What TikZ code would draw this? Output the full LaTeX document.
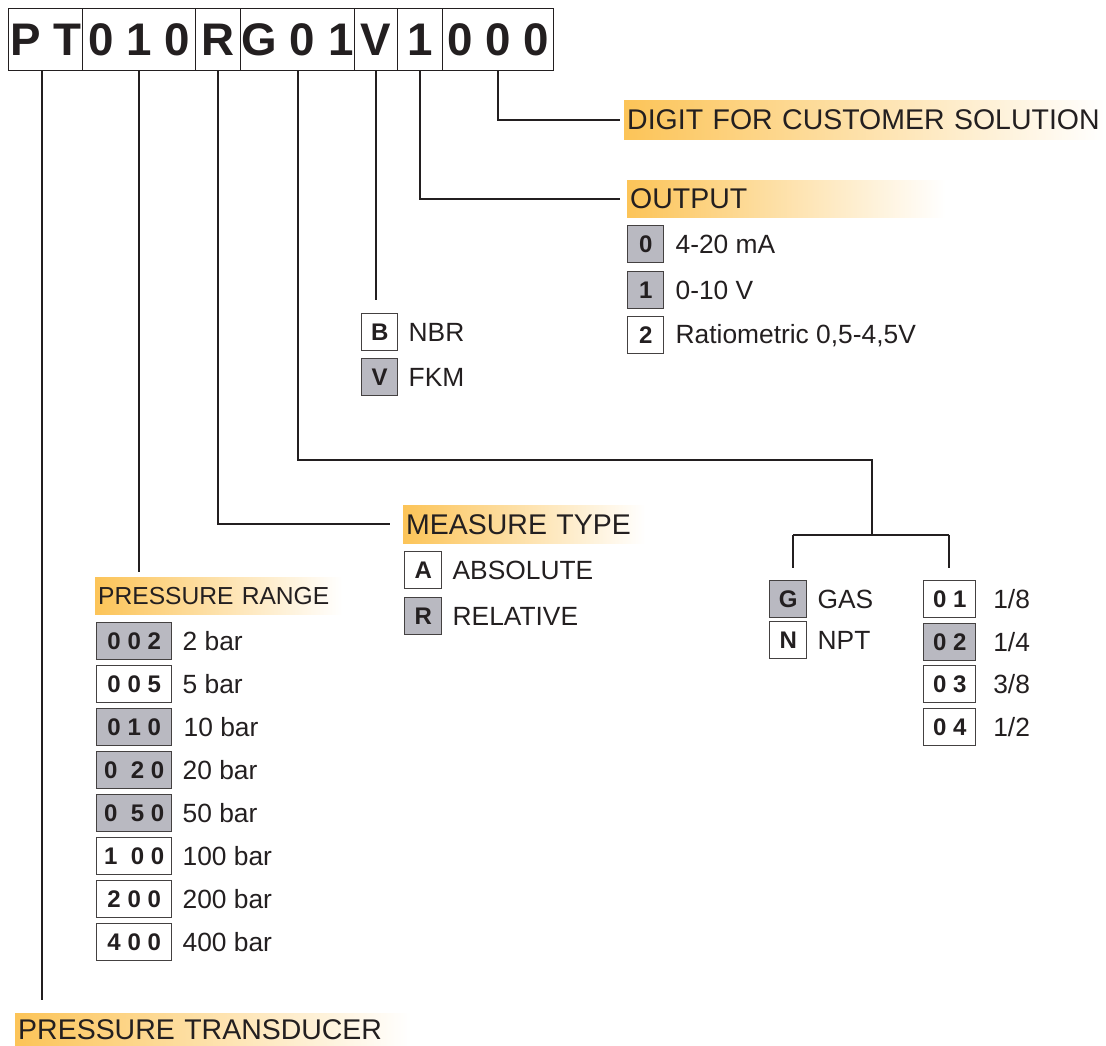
\documentclass[tikz,border=0pt]{standalone}
\usepackage{fontspec}
\setmainfont{Liberation Sans}
\usetikzlibrary{positioning,calc}
\definecolor{hdr}{RGB}{252,196,88}
\definecolor{optgrey}{RGB}{185,185,193}
\definecolor{ink}{RGB}{35,31,32}
\tikzstyle{digits} = [rectangle, draw=ink, line width=1pt, minimum height=1.86cm, anchor=north west, inner sep=0pt, font=\fontsize{39}{44}\selectfont\bfseries]
\tikzstyle{optbox} = [rectangle, draw=ink!85, line width=1.2pt, minimum height=1.11cm, anchor=north west, inner sep=0pt, font=\fontsize{20.5}{22}\selectfont\bfseries]
\tikzstyle{optfill} = [optbox, fill=optgrey]
\tikzstyle{optlabel} = [inner sep=0pt, font=\fontsize{22.5}{24}\selectfont]
\tikzstyle{header} = [rectangle, left color=hdr, right color=white, anchor=north west, inner xsep=0.09cm, inner ysep=0pt, align=left, font=\fontsize{24.3}{26}\selectfont]
\tikzstyle{link} = [line width=1.6pt, draw=ink]

\begin{document}
\begin{tikzpicture}[x=0.03cm, y=-0.03cm, text=ink]

\useasboundingbox (0,0) rectangle (1106,1046);

% code boxes
\node (pt) [digits, minimum width=2.22cm] at (8,8) {P T};
\node (range) [digits, minimum width=3.39cm] at (82,8) {0 1 0};
\node (mtype) [digits, minimum width=1.35cm] at (195,8) {R};
\node (conn) [digits, minimum width=3.42cm] at (240,8) {G 0 1};
\node (seal) [digits, minimum width=1.29cm] at (354,8) {V};
\node (outsig) [digits, minimum width=1.35cm] at (397,8) {1};
\node (custom) [digits, minimum width=3.33cm] at (442,8) {0 0 0};

% headers
\node (custh) [header, text width=14.28cm, minimum height=1.17cm] at (624,100) {DIGIT FOR CUSTOMER SOLUTION};
\node (outh) [header, text width=9.36cm, minimum height=1.11cm] at (627,180) {OUTPUT};
\node (typeh) [header, text width=7.08cm, minimum height=1.14cm] at (403,505) {MEASURE TYPE};
\node (rangeh) [header, text width=7.23cm, minimum height=1.11cm, font=\fontsize{21}{24}\selectfont] at (95,577) {PRESSURE RANGE};
\node (transh) [header, text width=11.67cm, minimum height=0.99cm] at (15,1013) {PRESSURE TRANSDUCER};

% output
\node (o0) [optfill, minimum width=1.08cm] at (627,225) {0};
\node (o0t) [optlabel, right=0.33cm of o0] {4-20 mA};
\node (o1) [optfill, minimum width=1.08cm] at (627,271) {1};
\node (o1t) [optlabel, right=0.33cm of o1] {0-10 V};
\node (o2) [optbox, minimum width=1.08cm] at (627,316) {2};
\node (o2t) [optlabel, right=0.33cm of o2] {Ratiometric 0,5-4,5V};

% seal
\node (nbr) [optbox, minimum width=1.08cm] at (361,313) {B};
\node (nbrt) [optlabel, right=0.3cm of nbr] {NBR};
\node (fkm) [optfill, minimum width=1.08cm] at (361,358) {V};
\node (fkmt) [optlabel, right=0.3cm of fkm] {FKM};

% measure type
\node (abs) [optbox, minimum width=1.11cm] at (404,551) {A};
\node (abst) [optlabel, right=0.3cm of abs] {ABSOLUTE};
\node (rel) [optfill, minimum width=1.11cm] at (404,597) {R};
\node (relt) [optlabel, right=0.3cm of rel] {RELATIVE};

% pressure range
\node (b002) [optfill, minimum width=2.25cm] at (96,622) {0 0 2};
\node (b002t) [optlabel, right=0.3cm of b002] {2 bar};
\node (b005) [optbox, minimum width=2.25cm] at (96,665) {0 0 5};
\node (b005t) [optlabel, right=0.3cm of b005] {5 bar};
\node (b010) [optfill, minimum width=2.25cm] at (96,708) {0 1 0};
\node (b010t) [optlabel, right=0.33cm of b010] {10 bar};
\node (b020) [optfill, minimum width=2.25cm] at (96,751) {0~ 2 0};
\node (b020t) [optlabel, right=0.3cm of b020] {20 bar};
\node (b050) [optfill, minimum width=2.25cm] at (96,794) {0~ 5 0};
\node (b050t) [optlabel, right=0.3cm of b050] {50 bar};
\node (b100) [optbox, minimum width=2.25cm] at (96,837) {1~ 0 0};
\node (b100t) [optlabel, right=0.3cm of b100] {100 bar};
\node (b200) [optbox, minimum width=2.25cm] at (96,880) {2 0 0};
\node (b200t) [optlabel, right=0.3cm of b200] {200 bar};
\node (b400) [optbox, minimum width=2.25cm] at (96,923) {4 0 0};
\node (b400t) [optlabel, right=0.3cm of b400] {400 bar};

% connection
\node (gas) [optfill, minimum width=1.11cm] at (769,580) {G};
\node (gast) [optlabel, right=0.3cm of gas] {GAS};
\node (npt) [optbox, minimum width=1.11cm] at (769,621) {N};
\node (nptt) [optlabel, right=0.3cm of npt] {NPT};
\node (t01) [optbox, minimum width=1.56cm] at (923,580) {0 1};
\node (t01t) [optlabel, right=0.5cm of t01] {1/8};
\node (t02) [optfill, minimum width=1.56cm] at (923,623) {0 2};
\node (t02t) [optlabel, right=0.5cm of t02] {1/4};
\node (t03) [optbox, minimum width=1.56cm] at (923,665) {0 3};
\node (t03t) [optlabel, right=0.5cm of t03] {3/8};
\node (t04) [optbox, minimum width=1.56cm] at (923,708) {0 4};
\node (t04t) [optlabel, right=0.5cm of t04] {1/2};

\coordinate (bend) at (872,460);
\coordinate (fork) at (872,535);
\coordinate (forkl) at (793,535);
\coordinate (forkr) at (949,535);

\draw [link, shorten >=0.12cm] (custom.south) |- (custh.west);
\draw [link, shorten >=0.21cm] (outsig.south) |- (outh.west);
\draw [link, shorten >=0.39cm] (seal.south) -- (seal.south |- nbr.north);
\draw [link] (conn.south) |- (bend) -- (fork);
\draw [link] (forkl) -- (forkr);
\draw [link, shorten >=0.36cm] (forkl) -- (forkl |- gas.north);
\draw [link, shorten >=0.36cm] (forkr) -- (forkr |- t01.north);
\draw [link, shorten >=0.39cm] (mtype.south) |- (typeh.west);
\draw [link, shorten >=0.15cm] (range.south) -- (range.south |- rangeh.north);
\draw [link, shorten >=0.39cm] ([xshift=-0.12cm]pt.south) -- ([xshift=-0.12cm]pt.south |- transh.north);

\end{tikzpicture}
\end{document}
